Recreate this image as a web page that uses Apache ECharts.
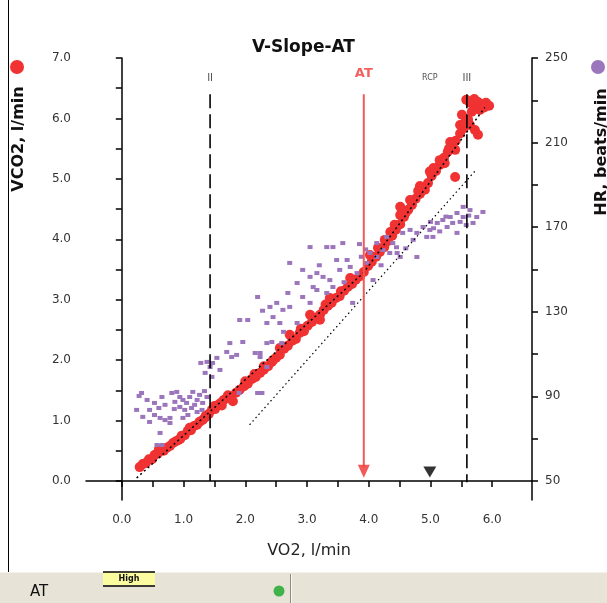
<!DOCTYPE html>
<html>
<head>
<meta charset="utf-8">
<script src="https://cdn.jsdelivr.net/npm/echarts@6/dist/echarts.min.js"></script>
<style>
  html, body { margin: 0; padding: 0; background: #fff; }
  #chart { width: 607px; height: 603px; }
</style>
</head>
<body>
<div id="chart"></div>
<script>
// VCO2 (l/min) against VO2 (l/min)
const vco2Points = [
  [0.29,0.23],[0.34,0.28],[0.39,0.30],[0.44,0.36],[0.49,0.36],[0.53,0.43],[0.58,0.45],[0.63,0.50],
  [0.68,0.50],[0.73,0.55],[0.78,0.58],[0.83,0.63],[0.88,0.66],[0.92,0.68],[0.97,0.75],[1.02,0.76],
  [1.07,0.83],[1.12,0.84],[1.17,0.91],[1.22,0.93],[1.26,0.98],[1.31,1.01],[1.36,1.08],[1.41,1.11],
  [1.46,1.18],[1.51,1.19],[1.56,1.26],[1.60,1.29],[1.65,1.34],[1.70,1.37],[1.75,1.39],[1.80,1.32],
  [1.85,1.46],[1.91,1.51],[1.98,1.57],[2.04,1.61],[2.11,1.69],[2.17,1.72],[2.24,1.79],[2.30,1.84],
  [2.37,1.90],[2.43,1.97],[2.50,2.04],[2.56,2.09],[2.63,2.19],[2.69,2.24],[2.76,2.32],[2.82,2.35],
  [2.88,2.45],[2.95,2.48],[3.01,2.57],[3.08,2.63],[3.14,2.70],[3.21,2.75],[3.27,2.83],[3.34,2.90],
  [3.40,2.95],[3.47,3.03],[3.53,3.06],[3.60,3.15],[3.66,3.21],[3.73,3.26],[3.79,3.33],[3.86,3.39],
  [3.92,3.46],[3.99,3.56],[4.05,3.63],[4.12,3.71],[4.18,3.79],[4.25,3.87],[4.31,3.97],[4.38,4.06],
  [4.44,4.16],[4.51,4.25],[4.57,4.37],[4.64,4.49],[4.70,4.57],[4.76,4.67],[4.83,4.75],[4.89,4.85],
  [4.96,4.93],[5.02,5.05],[5.09,5.13],[5.15,5.23],[5.22,5.35],[5.28,5.45],[5.35,5.55],[5.41,5.63],
  [5.48,5.75],[5.54,5.84],[5.61,5.98],[5.67,6.11],[5.74,6.21],
  [5.58,6.31],[5.64,6.26],[5.71,6.32],[5.77,6.27],[5.83,6.24],[5.90,6.26],[5.95,6.21],[5.80,6.14],
  [5.87,6.18],[5.64,5.89],[5.72,5.81],[5.77,5.73],[5.51,6.06],
  [4.67,4.65],[4.83,4.88],[5.15,5.31],[4.99,5.12],[5.32,5.61],[5.48,5.89],[4.42,4.24],[4.26,3.99],
  [4.51,4.40],[4.91,4.82],[5.23,5.26],[5.40,5.48],[5.40,5.03],[4.02,3.74],[4.15,3.86],[4.51,4.54],
  [2.72,2.42],[3.05,2.75],[3.37,3.03],[3.70,3.36],[2.56,2.20],[3.21,2.67],[1.35,1.05],[0.95,0.70],
  [2.00,1.65],[2.30,1.90],[1.72,1.42],[1.62,1.25],
  [0.60,0.52],[1.10,0.88],[1.50,1.24],[2.15,1.77],[2.45,2.00],[2.90,2.52],[3.30,2.92],[3.55,3.14],
  [4.35,4.12],[4.60,4.44],[4.80,4.80],[5.05,5.18],[5.30,5.50],[5.55,5.92]
];

// HR (beats/min) against VO2 (l/min)
const hrPoints = [
  [0.32,91.6],[0.65,89.7],[0.81,91.6],[0.89,92.1],[0.94,89.7],[0.99,88.3],[1.05,86.9],[1.10,89.7],
  [1.15,92.1],[1.22,88.3],[1.26,90.7],[1.31,86.9],[1.38,89.7],[0.94,85.0],[1.02,83.6],[1.13,84.5],
  [1.22,82.6],[1.30,83.6],[0.45,83.6],[0.53,81.2],[0.62,79.8],[0.70,78.8],[0.78,79.8],[0.34,80.3],
  [0.45,77.9],[0.78,77.4],[0.99,79.8],[1.07,81.2],[0.62,72.7],[0.65,67.0],[0.57,67.0],[0.28,90.2],
  [0.24,83.6],[0.41,88.3],[0.53,86.9],[0.70,86.0],[0.86,87.4],
  [1.28,105.8],[1.38,106.3],[1.43,103.9],[1.47,105.8],[1.35,101.1],[1.46,99.2],[1.54,108.2],[1.59,102.5],
  [1.70,111.0],[1.78,108.6],[1.75,115.2],[1.86,109.6],[1.96,115.7],[2.16,110.5],[2.24,108.6],[2.35,115.2],
  [2.43,115.7],[2.59,115.2],[1.90,91.6],[2.20,91.6],[2.35,103.9],
  [1.91,126.1],[2.04,126.1],[2.24,110.5],[2.27,91.6],[2.20,137.0],[2.40,132.3],[2.51,134.2],[2.61,130.9],
  [2.72,132.3],[2.45,127.5],[2.56,124.7],[2.84,124.7],[2.35,124.7],[2.69,138.9],[2.84,143.6],[2.93,137.0],
  [3.05,134.2],[3.16,140.3],[2.72,153.1],[2.93,149.8],[3.05,146.5],[3.16,148.3],[3.26,146.5],[3.37,145.0],
  [3.05,160.6],[3.32,160.6],[3.42,160.6],[3.58,162.5],[3.48,154.5],[3.65,154.5],[3.70,151.2],[3.53,149.8],
  [3.81,148.3],[3.74,134.2],[3.42,141.7],[3.32,138.9],[3.10,141.7],[4.02,157.8],[4.13,155.9],[4.23,159.2],
  [4.34,157.8],[4.46,157.8],[4.51,155.9],[4.13,162.5],[4.29,165.4],[4.39,162.5],[3.97,153.1],[4.07,145.0],
  [4.78,155.9],[4.55,167.3],[4.67,168.7],[4.78,167.3],[4.88,170.1],[4.99,168.7],[5.11,172.0],[5.20,173.4],
  [4.94,165.4],[5.32,174.8],[5.43,176.7],[5.53,174.8],[5.64,178.1],[5.75,174.8],[5.85,177.2],[5.53,179.6],
  [5.69,172.0],[5.36,172.0],[5.27,170.1],[5.43,167.3],[5.04,165.4],
  [3.60,144.0],[3.88,156.0],[4.20,152.0],[4.60,160.0],[5.00,172.5],[5.15,168.0],[5.58,171.0],[3.20,152.0],
  [0.85,84.0],[1.18,86.0],[0.60,84.5],[1.34,92.5],[4.72,164.0],[5.05,169.5],[5.25,175.0],[5.62,175.5],
  [5.48,172.5],[4.45,160.5],[3.95,159.5],[3.85,162.0],[2.62,120.5],[2.28,130.5]
];

// fitted slopes (VO2, VCO2)
const slopeLine = [[0.24,0.05],[3.91,3.44],[5.88,6.18]];
const refLine = [[2.07,0.93],[5.74,5.15]];

// threshold markers
const markerNames = ['II', 'AT', 'RCP', 'III'];
const markerVO2 = [1.43, 3.92, 4.99, 5.59];

// axes
const xLabels = [0, 1, 2, 3, 4, 5, 6];
const xTickValues = [0, 0.5, 1, 1.5, 2, 2.5, 3, 3.5, 4, 4.5, 5, 5.5, 6];
const yLabels = [0, 1, 2, 3, 4, 5, 6, 7];
const yTickValues = [0, 0.5, 1, 1.5, 2, 2.5, 3, 3.5, 4, 4.5, 5, 5.5, 6, 6.5, 7];
const hrLabels = [50, 90, 130, 170, 210, 250];
const hrTickValues = [50, 70, 90, 110, 130, 150, 170, 190, 210, 230, 250];

const FONT = 'DejaVu Sans';
const axisLine = { show: true, lineStyle: { color: '#000', width: 1.5 } };
const tickStyle = { lineStyle: { color: '#000', width: 1.5 } };

const chart = echarts.init(document.getElementById('chart'), null, { renderer: 'canvas' });

function vLine(x, top, bottom, color, width, type) {
  return {
    type: 'line', data: [[x, top], [x, bottom]], symbol: 'none', z: 4,
    lineStyle: { color: color, width: width, type: type }, silent: true
  };
}

const option = {
  animation: false,
  backgroundColor: '#fff',
  title: {
    text: 'V-Slope-AT', left: 'center', top: 34,
    textStyle: { fontFamily: FONT, fontSize: 17, fontWeight: 'bold', color: '#111' }
  },
  grid: { left: 86, right: 75, top: 58, bottom: 103, outerBoundsMode: 'none' },
  xAxis: {
    type: 'value', min: -0.58, max: 6.645,
    name: 'VO2, l/min', nameLocation: 'middle', nameGap: 43,
    nameTextStyle: { fontFamily: FONT, fontSize: 16, color: '#222' },
    axisLine: axisLine,
    axisTick: Object.assign({ show: true, length: 6, customValues: xTickValues }, tickStyle),
    axisLabel: {
      customValues: xLabels, margin: 14, fontFamily: FONT, fontSize: 12, color: '#333',
      formatter: v => v.toFixed(1)
    },
    splitLine: { show: false }
  },
  yAxis: [{
    type: 'value', min: -0.314, max: 7,
    axisLine: axisLine,
    axisTick: Object.assign({ show: true, length: 6, customValues: yTickValues }, tickStyle),
    axisLabel: {
      customValues: yLabels, margin: 15, fontFamily: FONT, fontSize: 12, color: '#333',
      formatter: v => v.toFixed(1)
    },
    splitLine: { show: false }
  }, {
    type: 'value', min: 41, max: 250, position: 'right',
    axisLine: axisLine,
    axisTick: Object.assign({ show: true, length: 6, customValues: hrTickValues }, tickStyle),
    axisLabel: {
      customValues: hrLabels, margin: 13, fontFamily: FONT, fontSize: 12, color: '#333'
    },
    splitLine: { show: false }
  }],
  series: [
    {
      name: 'VCO2', type: 'scatter', data: vco2Points, symbol: 'circle', symbolSize: 10, z: 2,
      itemStyle: { color: '#f03232', opacity: 1 }
    },
    {
      name: 'HR', type: 'scatter', yAxisIndex: 1, data: hrPoints, symbol: 'rect', symbolSize: [5, 4], z: 3,
      itemStyle: { color: '#9c76bd', opacity: 1 }
    },
    {
      type: 'line', data: refLine, symbol: 'none', z: 4, silent: true,
      lineStyle: { color: '#000', width: 1.2, type: [1.5, 3] }
    },
    {
      type: 'line', data: slopeLine, symbol: 'none', z: 4, silent: true,
      lineStyle: { color: '#000', width: 1.5, type: [2, 3] }
    },
    vLine(markerVO2[0], 6.4, 0, '#000', 1.6, [14, 6]),
    vLine(markerVO2[3], 6.4, -0.02, '#000', 1.6, [14, 6]),
    vLine(markerVO2[1], 6.4, 0.24, '#f25a5a', 2, 'solid'),
    {
      type: 'scatter', data: [[markerVO2[1], 0.16]], symbol: 'triangle', symbolRotate: 180,
      symbolSize: [12, 13], z: 5, itemStyle: { color: '#f03030' }, silent: true
    },
    {
      type: 'scatter', data: [[markerVO2[2], 0.15]], symbol: 'triangle', symbolRotate: 180,
      symbolSize: [13, 11], z: 5, itemStyle: { color: '#000' }, silent: true
    },
    {
      type: 'scatter', symbolSize: 0, z: 6, silent: true,
      data: markerNames.map((n, i) => ({
        name: n, value: [markerVO2[i], n === 'AT' ? 6.74 : 6.67],
        label: n === 'AT'
          ? { color: '#f03838', fontSize: 13, fontWeight: 'bold' }
          : { color: '#222', fontSize: n === 'RCP' ? 8 : 10 }
      })),
      label: { show: true, position: 'inside', formatter: p => p.name, fontFamily: FONT }
    }
  ],
  graphic: [
    { type: 'line', shape: { x1: 8.5, y1: 0, x2: 8.5, y2: 572 }, style: { stroke: '#000', lineWidth: 1 } },
    { type: 'circle', shape: { cx: 17, cy: 67, r: 7 }, style: { fill: '#f03232' } },
    {
      type: 'text', x: 19, y: 139, rotation: Math.PI / 2,
      style: { text: 'VCO2, l/min', font: 'bold 16px "DejaVu Sans"', fill: '#111', textAlign: 'center', textVerticalAlign: 'middle' }
    },
    { type: 'circle', shape: { cx: 598, cy: 67, r: 7 }, style: { fill: '#9c76bd' } },
    {
      type: 'text', x: 602, y: 152, rotation: Math.PI / 2,
      style: { text: 'HR, beats/min', font: 'bold 16px "DejaVu Sans"', fill: '#111', textAlign: 'center', textVerticalAlign: 'middle' }
    },
    // status bar
    { type: 'rect', shape: { x: 0, y: 572, width: 607, height: 31 }, style: { fill: '#e7e4d7' } },
    { type: 'line', shape: { x1: 0, y1: 572.5, x2: 607, y2: 572.5 }, style: { stroke: '#f4f2ea', lineWidth: 1 } },
    {
      type: 'text', x: 30, y: 592,
      style: { text: 'AT', font: '15px "DejaVu Sans"', fill: '#111', textVerticalAlign: 'middle' }
    },
    { type: 'rect', shape: { x: 103, y: 572, width: 52, height: 13 }, style: { fill: '#fbfba0' } },
    { type: 'line', shape: { x1: 103, y1: 572, x2: 155, y2: 572 }, style: { stroke: '#000', lineWidth: 1.5 } },
    { type: 'line', shape: { x1: 103, y1: 586, x2: 155, y2: 586 }, style: { stroke: '#000', lineWidth: 1.5 } },
    {
      type: 'text', x: 129, y: 579,
      style: { text: 'High', font: 'bold 8px "DejaVu Sans"', fill: '#111', textAlign: 'center', textVerticalAlign: 'middle' }
    },
    { type: 'circle', shape: { cx: 279, cy: 591, r: 5.5 }, style: { fill: '#3fb34a' } },
    { type: 'line', shape: { x1: 290.5, y1: 574, x2: 290.5, y2: 603 }, style: { stroke: '#8a8a80', lineWidth: 1 } },
    { type: 'line', shape: { x1: 291.5, y1: 574, x2: 291.5, y2: 603 }, style: { stroke: '#fafaf4', lineWidth: 1 } }
  ]
};

chart.setOption(option);
</script>
</body>
</html>
